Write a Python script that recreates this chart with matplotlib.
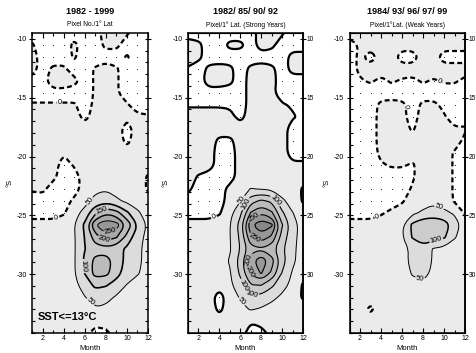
import numpy as np
import matplotlib
matplotlib.use("Agg")
import matplotlib.pyplot as plt
from matplotlib.path import Path

plt.rcParams["font.family"] = ["Liberation Sans", "DejaVu Sans"]
plt.rcParams["axes.unicode_minus"] = False

W = -20  # no pixels found at this grid node (white)

months = list(range(1, 13))
lats = list(np.linspace(-9.5, -35, 26))   # rows: ~10S ... 35S

titles = ["1982 - 1999", "1982/ 85/ 90/ 92", "1984/ 93/ 96/ 97/ 99"]
subtitles = ["Pixel No./1° Lat", "Pixel/1° Lat. (Strong Years)",
             "Pixel/1°Lat. (Weak Years)"]
levels = [0, 50, 100, 150, 200, 250, 300]
yticks = [-10, -15, -20, -25, -30]
xticks = [2, 4, 6, 8, 10, 12]

pix_all = [
    [W, W, W, W, W, W, W, 20, 20, 5, W, W],
    [5, W, W, W, 10, W, W, 10, 10, W, W, W],
    [20, W, W, W, 5, W, W, W, W, 5, W, W],
    [20, W, 8, 8, W, W, 5, 20, 5, W, W, W],
    [W, W, 30, 30, 12, W, 5, 20, 5, W, W, W],
    [W, W, W, W, W, W, 5, 20, 5, W, W, W],
    [5, 5, 5, 5, 5, W, 10, 20, 10, 5, W, W],
    [20, 20, 20, 20, 15, -10, 15, 20, 20, 15, 10, 5],
    [20, 20, 20, 20, 20, 20, 20, 20, 20, W, 20, 20],
    [20, 20, 20, 20, 20, 20, 20, 20, 20, -10, 20, 20],
    [20, 20, 20, 5, 20, 20, 20, 20, 20, 20, 20, 20],
    [20, 20, 20, W, 5, 20, 20, 20, 20, 20, 20, 20],
    [20, 20, 10, W, W, 20, 20, 20, 20, 20, 20, -5],
    [5, 10, W, W, W, 20, 35, 45, 30, 20, 20, -5],
    [W, W, W, W, 10, 30, 70, 80, 60, 40, 25, 20],
    [W, W, W, -5, 30, 70, 140, 190, 170, 110, 60, 25],
    [20, 20, 20, 25, 48, 110, 250, 290, 275, 185, 100, 40],
    [20, 20, 20, 25, 45, 102, 175, 230, 205, 135, 70, 35],
    [20, 20, 20, 25, 45, 98, 130, 130, 120, 90, 60, 35],
    [20, 20, 20, 25, 45, 110, 165, 170, 130, 85, 60, 35],
    [20, 20, 20, 25, 45, 102, 170, 165, 120, 75, 55, 30],
    [20, 20, 20, 22, 35, 75, 110, 105, 80, 48, 30, 20],
    [20, 20, 20, 20, 25, 48, 75, 65, 45, 30, 20, 20],
    [20, 20, 20, 20, 20, 30, 45, 40, 25, 20, 20, 20],
    [20, 20, 20, 20, 20, 20, 20, 20, 20, 20, 20, 20],
    [20, 20, 20, 20, 20, 20, W, -10, 20, 20, 20, 20],
]

pix_strong = [
    [W, W, W, W, W, W, W, 20, 20, 5, W, W],
    [20, 10, W, W, 10, 10, W, 20, 10, W, W, W],
    [20, 10, W, W, W, W, W, W, W, W, 15, 15],
    [-5, W, 10, 15, 10, W, 10, 20, 10, W, 15, 15],
    [W, W, 20, 20, 10, W, 15, 20, 15, W, W, W],
    [W, W, W, W, W, W, 15, 20, 10, W, W, W],
    [-5, -5, -5, -5, -5, W, 15, 20, 20, 5, -5, -5],
    [20, 20, 20, 20, 10, -10, 15, 20, 20, 20, 5, -10],
    [20, 20, 20, 20, 20, 20, 20, 20, 20, 20, W, W],
    [20, 20, 20, -10, -10, 20, 20, 20, 20, 20, W, W],
    [20, 20, 20, W, W, 20, 20, 20, 20, 20, W, W],
    [20, 20, 20, W, W, 20, 20, 20, 20, 20, 10, 10],
    [20, -5, W, W, W, 20, 20, 20, 20, 20, 20, 20],
    [10, W, W, W, 15, 30, 52, 48, 40, 25, 20, -5],
    [W, W, W, W, 20, 48, 130, 160, 140, 60, 30, -5],
    [W, W, W, -5, 35, 90, 205, 245, 210, 110, 52, 25],
    [20, 20, 20, 25, 48, 120, 290, 335, 310, 155, 70, 30],
    [20, 20, 20, 25, 48, 110, 240, 280, 240, 130, 65, 30],
    [20, 20, 20, 25, 45, 102, 180, 195, 170, 110, 60, 30],
    [20, 20, 20, 25, 55, 120, 230, 285, 220, 120, 60, 25],
    [20, 20, 20, 25, 45, 110, 210, 255, 190, 98, 45, 20],
    [20, 20, 20, 20, 40, 80, 148, 152, 110, 70, 35, -5],
    [20, 20, 20, W, 25, 55, 90, 85, 65, 40, 20, -5],
    [20, 20, 20, -10, 20, 35, 55, 45, 30, 20, 20, 20],
    [20, 20, 20, 20, 20, 20, 5, 20, 20, 20, 20, 20],
    [20, 20, 20, 20, 20, 20, W, W, 20, 20, 20, 20],
]

pix_weak = [
    [20, 20, 20, 20, 20, 20, 20, 20, 20, 20, 20, 20],
    [W, 5, 20, 20, 20, 20, 20, 20, 20, 20, 20, 20],
    [W, 10, W, 20, 20, W, W, 20, 20, W, W, W],
    [W, 10, 20, 20, 20, 20, 20, 20, 20, 20, 20, 20],
    [W, -5, 5, -10, 5, -5, -10, 5, -5, 5, 5, -10],
    [W, W, W, W, W, W, W, W, W, W, W, W],
    [W, W, W, 10, 15, 10, W, 10, 10, -10, W, W],
    [W, W, W, 15, 20, 15, W, 20, 20, 5, W, W],
    [W, W, W, 15, 20, 15, -5, 20, 20, 20, 5, 5],
    [W, W, W, 15, 20, 20, 20, 20, 20, 20, 20, -10],
    [W, W, W, 10, 20, 20, 20, 20, 20, 20, -5, W],
    [W, W, W, -5, 5, 5, -5, 20, 20, 20, -5, W],
    [W, W, W, W, W, W, -5, 20, 20, 20, -5, W],
    [W, W, W, W, W, W, 5, 20, 20, 20, -5, W],
    [W, W, W, W, W, -5, 20, 25, 40, 30, -5, W],
    [W, W, W, -5, 10, 20, 40, 60, 70, 60, 45, -5],
    [20, 20, 20, 20, 25, 40, 112, 140, 145, 130, 70, 30],
    [20, 20, 20, 20, 25, 45, 105, 130, 125, 108, 55, 25],
    [20, 20, 20, 20, 22, 35, 60, 80, 45, 35, 25, 20],
    [20, 20, 20, 20, 20, 30, 65, 75, 45, 30, 20, 20],
    [20, 20, 20, 20, 20, 25, 55, 65, 40, 25, 20, 20],
    [20, 20, 20, 20, 20, 20, 35, 40, 30, 20, 20, 20],
    [20, 20, 20, 20, 20, 20, 20, 20, 20, 20, 20, 20],
    [20, 20, -8, 20, 20, 20, 20, 20, 20, 20, 20, 20],
    [20, 20, 20, 20, 20, 20, 20, 20, 20, 20, 20, 20],
    [20, 20, 20, 20, 20, 20, 20, 20, 20, 20, 20, 20],
]

fill_colors = ["white", "#ebebeb", "#dcdcdc", "#cccccc", "#bbbbbb",
               "#a9a9a9", "#979797", "#888888"]
DASH = (0, (2.2, 1.4))


def _on_edge(p):
    return (np.isclose(p[0], months[0]) or np.isclose(p[0], months[-1])
            or np.isclose(p[1], lats[0]) or np.isclose(p[1], lats[-1]))


def _cut_corners(pts, closed):
    # Chaikin corner cutting, points on the plot border stay put
    n = len(pts)
    if n < 3:
        return pts
    out = []
    for i in range(n):
        p = pts[i]
        if (not closed and i in (0, n - 1)) or _on_edge(p):
            out.append(p)
            continue
        out.append(0.75 * p + 0.25 * pts[i - 1])
        out.append(0.75 * p + 0.25 * pts[(i + 1) % n])
    return np.array(out)


def smooth_path(path, rounds=2):
    verts, codes = path.vertices, path.codes
    if codes is None or len(verts) < 3:
        return path
    starts = list(np.flatnonzero(codes == Path.MOVETO)) + [len(codes)]
    new_v, new_c = [], []
    for s, e in zip(starts[:-1], starts[1:]):
        pts = verts[s:e]
        closed = codes[e - 1] == Path.CLOSEPOLY
        if closed:
            pts = pts[:-1]
        for _ in range(rounds):
            pts = _cut_corners(pts, closed)
        new_v.extend(pts)
        new_c.extend([Path.MOVETO] + [Path.LINETO] * (len(pts) - 1))
        if closed:
            new_v.append(pts[0])
            new_c.append(Path.CLOSEPOLY)
    return Path(np.array(new_v), np.array(new_c, dtype=np.uint8))


def draw_panel(ax, grid, zero_ls, widths, label_pts):
    z = np.array(grid, dtype=float)
    cf = ax.contourf(months, lats, z, levels=[-1000] + levels + [1000],
                     colors=fill_colors)
    cf._paths = [smooth_path(p) for p in cf.get_paths()]
    styles = [zero_ls] + ["solid"] * (len(levels) - 1)
    cs = ax.contour(months, lats, z, levels=levels, colors="black",
                    linewidths=widths, linestyles=styles)
    cs._paths = [smooth_path(p) for p in cs.get_paths()]
    ax.clabel(cs, manual=label_pts, fmt="%d", fontsize=5.3, inline=True,
              inline_spacing=1)
    # grid nodes without pixels
    for i, row in enumerate(grid[1:-1], 1):
        for j, v in enumerate(row[1:-1], 1):
            if v < 0:
                ax.plot(months[j], lats[i], "k.", ms=1.2, mew=0)
    ax.set_xlim(1, 12)
    ax.set_ylim(-35, -9.5)
    ax.set_xticks(xticks)
    ax.set_xticks(months, minor=True)
    ax.set_yticks(yticks)
    ax.set_yticks(range(-35, -9), minor=True)
    ax.tick_params(which="both", direction="in", top=True, right=True,
                   labelsize=5, pad=1.5, width=0.8)
    ax.tick_params(which="major", length=3.5)
    ax.tick_params(which="minor", length=2)
    ax.tick_params(axis="y", which="major", direction="inout", length=5)
    for s in ax.spines.values():
        s.set_linewidth(1.1)
    ax.set_xlabel("Month", fontsize=5.5, labelpad=2)
    ax.set_ylabel("°S", fontsize=5.5, labelpad=2)


fig = plt.figure(figsize=(4.76, 3.53), dpi=100)
boxes = [(32, 116), (188, 115), (349.5, 115.5)]
axes = [fig.add_axes([l / 476, 20 / 353, w / 476, 300 / 353]) for l, w in boxes]

draw_panel(axes[0], pix_all, DASH, [1.6, 0.7, 1.2, 1.0, 1.0, 0.7, 0.7],
           [(3.6, -15.5), (3.3, -25.1), (6.2, -23.6), (7.7, -24.8),
            (8.3, -26.0), (7.8, -27.2), (6.1, -29.3), (6.6, -32.3)])
draw_panel(axes[1], pix_strong, "solid", [1.6, 0.7, 0.8, 0.8, 0.8, 0.8, 0.8],
           [(3.5, -25.2), (6.0, -23.6), (6.7, -24.1), (9.3, -23.8),
            (7.4, -25.3), (7.6, -26.6), (7.1, -28.8), (6.9, -29.8),
            (6.6, -30.8), (6.3, -32.2), (6.9, -32.1)])
draw_panel(axes[2], pix_weak, DASH, [1.6, 0.7, 1.1, 0.8, 0.8, 0.8, 0.8],
           [(3.6, -25.0), (6.3, -15.8), (9.6, -13.6), (9.5, -24.4),
            (9.2, -26.9), (7.7, -30.5)])

# right-hand latitude labels on the 2nd and 3rd panels
for ax in axes[1:]:
    axr = ax.twinx()
    axr.set_ylim(ax.get_ylim())
    axr.set_yticks(yticks, [str(-t) for t in yticks])
    axr.tick_params(direction="inout", length=4, labelsize=4.8, pad=0.8,
                    width=0.8)
    axr.spines["right"].set_linewidth(1.1)

axes[0].text(0.05, 0.045, "SST<=13°C", transform=axes[0].transAxes,
             fontsize=8, fontweight="bold")

for ax, t, s in zip(axes, titles, subtitles):
    p = ax.get_position()
    xc = (p.x0 + p.x1) / 2
    fig.text(xc, 1 - 12 / 353, t, ha="center", va="center", fontsize=6.5,
             fontweight="bold")
    fig.text(xc, 1 - 25 / 353, s, ha="center", va="center", fontsize=4.8)

fig.savefig("out.png", dpi=100)
